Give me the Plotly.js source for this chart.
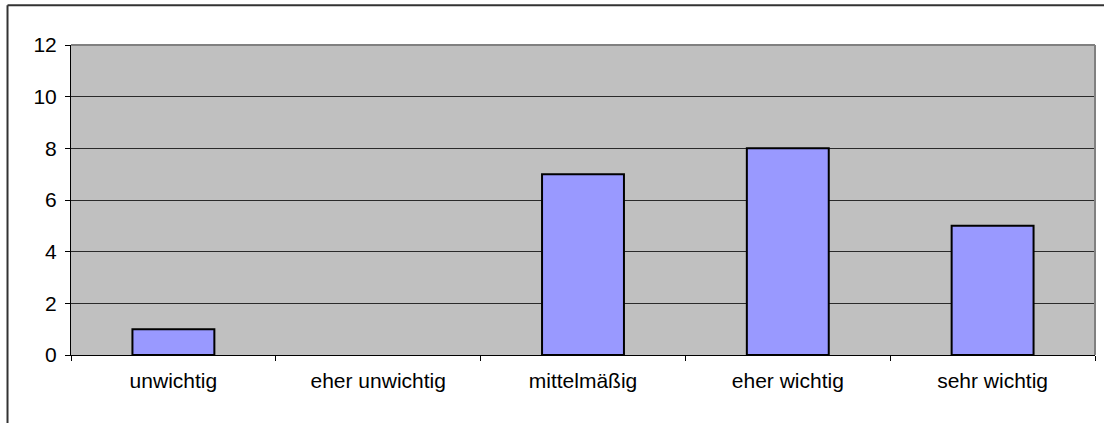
<!DOCTYPE html>
<html>
<head>
<meta charset="utf-8">
<script src="https://cdn.plot.ly/plotly-3.0.1.min.js"></script>
<style>
  html, body { margin: 0; padding: 0; background: #ffffff; }
  #chart { width: 1104px; height: 423px; }
</style>
</head>
<body>
<div id="chart"></div>
<script>
// Ratings of importance, number of answers per category
const categories = ["unwichtig", "eher unwichtig", "mittelmäßig", "eher wichtig", "sehr wichtig"];
const counts = [1, 0, 7, 8, 5];
const yTicks = [0, 2, 4, 6, 8, 10, 12];

const font = { family: "Liberation Sans, Arial, sans-serif", size: 21, color: "#000000" };

const trace = {
  type: "bar",
  x: categories,
  y: counts,
  marker: {
    color: "#9999FF",
    // empty categories get no outline
    line: { color: "#000000", width: counts.map(v => (v > 0 ? 2 : 0)) }
  },
  hoverinfo: "x+y"
};

const layout = {
  width: 1104,
  height: 423,
  margin: { l: 71, r: 9, t: 45, b: 68, pad: 0 },
  paper_bgcolor: "#ffffff",
  plot_bgcolor: "#C0C0C0",
  font: font,
  showlegend: false,
  bargap: 0.6,
  xaxis: {
    type: "category",
    showgrid: false,
    showline: true,
    linecolor: "#000000",
    linewidth: 1,
    ticks: "outside",
    tickson: "boundaries",
    ticklen: 5,
    tickcolor: "#000000",
    tickwidth: 1,
    ticklabelstandoff: 7,
    tickfont: font,
    zeroline: false,
    fixedrange: true
  },
  yaxis: {
    range: [0, 12],
    tickvals: yTicks,
    ticktext: yTicks.map(String),
    showgrid: true,
    gridcolor: "#2a2a2a",
    gridwidth: 1,
    showline: true,
    linecolor: "#000000",
    linewidth: 1,
    ticks: "outside",
    ticklen: 5,
    tickcolor: "#000000",
    tickwidth: 1,
    ticklabelstandoff: 4,
    tickfont: font,
    zeroline: false,
    fixedrange: true
  },
  shapes: [
    // gray top and right edges of the plot area
    { type: "line", xref: "paper", yref: "paper", x0: 0, x1: 1, y0: 1, y1: 1,
      line: { color: "#808080", width: 2 }, layer: "above" },
    { type: "line", xref: "paper", yref: "paper", x0: 1, x1: 1, y0: 0, y1: 1,
      line: { color: "#808080", width: 2 }, layer: "above" },
    // outer chart frame (top and left edges)
    { type: "line", xref: "paper", yref: "paper", x0: -0.062, x1: 1.1, y0: 1.128, y1: 1.128,
      line: { color: "#333333", width: 2 }, layer: "above" },
    { type: "line", xref: "paper", yref: "paper", x0: -0.062, x1: -0.062, y0: -0.3, y1: 1.128,
      line: { color: "#333333", width: 2 }, layer: "above" }
  ]
};

Plotly.newPlot("chart", [trace], layout, { displayModeBar: false, staticPlot: true });
</script>
</body>
</html>
